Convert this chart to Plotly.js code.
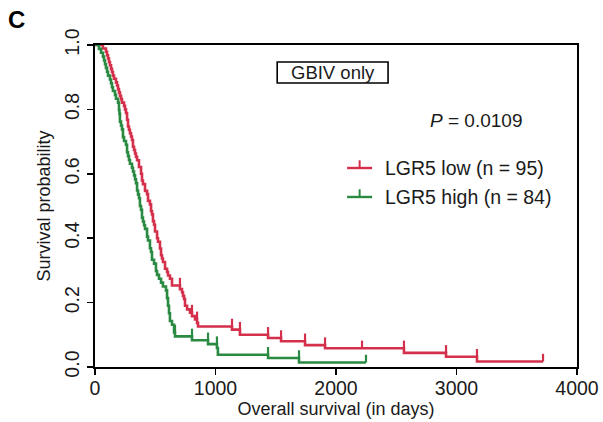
<!DOCTYPE html>
<html>
<head>
<meta charset="utf-8">
<script src="https://cdn.plot.ly/plotly-3.0.1.min.js"></script>
<style>html,body{margin:0;padding:0;background:#fff;}#chart{width:603px;height:422px;}</style>
</head>
<body>
<div id="chart"></div>
<script>
// LGR5 low (n = 95): step times (days) and survival probability
var lowTime = [0, 66, 91, 100, 108, 116, 124, 133, 141, 149, 158, 174, 183, 191, 199, 207, 216, 224, 241, 249, 257, 266, 274, 282, 290, 299, 307, 315, 324, 332, 340, 349, 365, 382, 390, 398, 415, 432, 440, 456, 465, 473, 481, 490, 498, 515, 523, 539, 548, 556, 564, 581, 598, 606, 622, 639, 705, 722, 730, 739, 747, 764, 788, 805, 830, 847, 855, 1137, 1203, 1436, 1544, 1743, 1909, 2564, 2913, 3170, 3718];
var lowSurv = [1.0, 0.989, 0.979, 0.968, 0.958, 0.947, 0.937, 0.926, 0.916, 0.905, 0.895, 0.884, 0.874, 0.863, 0.853, 0.842, 0.832, 0.821, 0.811, 0.800, 0.789, 0.768, 0.747, 0.737, 0.726, 0.716, 0.705, 0.684, 0.674, 0.663, 0.653, 0.642, 0.621, 0.600, 0.579, 0.568, 0.547, 0.537, 0.516, 0.505, 0.484, 0.474, 0.453, 0.442, 0.421, 0.400, 0.389, 0.368, 0.347, 0.337, 0.326, 0.305, 0.295, 0.284, 0.274, 0.253, 0.242, 0.232, 0.221, 0.211, 0.190, 0.179, 0.169, 0.158, 0.148, 0.137, 0.126, 0.116, 0.100, 0.090, 0.080, 0.068, 0.058, 0.044, 0.032, 0.017, 0.017];
var lowCensor = [705, 805, 847, 1137, 1203, 1436, 1544, 1743, 1909, 2216, 2564, 2913, 3170, 3718];

// LGR5 high (n = 84)
var highTime = [0, 33, 50, 66, 75, 83, 91, 100, 108, 124, 133, 141, 149, 166, 174, 191, 199, 203, 207, 216, 224, 232, 241, 257, 266, 274, 282, 290, 307, 315, 324, 332, 340, 349, 357, 365, 373, 382, 390, 398, 407, 415, 432, 440, 456, 465, 473, 490, 506, 515, 531, 548, 564, 589, 598, 606, 614, 622, 639, 656, 664, 805, 938, 1012, 1020, 1436, 1693, 2249];
var highSurv = [1.0, 0.988, 0.976, 0.964, 0.952, 0.940, 0.929, 0.917, 0.905, 0.893, 0.881, 0.869, 0.857, 0.845, 0.833, 0.821, 0.798, 0.786, 0.762, 0.750, 0.738, 0.714, 0.702, 0.690, 0.667, 0.655, 0.643, 0.631, 0.619, 0.607, 0.595, 0.583, 0.571, 0.548, 0.536, 0.524, 0.500, 0.488, 0.464, 0.452, 0.440, 0.429, 0.405, 0.393, 0.369, 0.357, 0.333, 0.321, 0.298, 0.286, 0.274, 0.262, 0.250, 0.238, 0.214, 0.190, 0.167, 0.143, 0.131, 0.107, 0.095, 0.083, 0.071, 0.059, 0.038, 0.028, 0.014, 0.014];
var highCensor = [664, 805, 938, 1012, 1436, 1693, 2249];

var seriesNames = ["LGR5 low (n = 95)", "LGR5 high (n = 84)"];
var xTicks = [0, 1000, 2000, 3000, 4000];
var yTicks = [0, 0.2, 0.4, 0.6, 0.8, 1.0];
var yTickText = ["0.0", "0.2", "0.4", "0.6", "0.8", "1.0"];

var RED = "#d4304b", GREEN = "#2b8a42";
var FONT = "Liberation Sans, Arial, sans-serif";
var TXT = "#1a1a1a";

function levelBefore(times, surv, t) {
  var v = surv[0];
  for (var i = 0; i < times.length; i++) { if (times[i] < t) v = surv[i]; }
  return v;
}
function censorTrace(times, surv, cens, color) {
  var ys = cens.map(function (t) { return levelBefore(times, surv, t); });
  return {
    x: cens, y: ys, type: "scatter", mode: "markers",
    marker: { size: 1, color: color, opacity: 0 },
    error_y: { type: "data", symmetric: false, array: cens.map(function () { return 0.024; }),
               arrayminus: cens.map(function () { return 0; }), width: 0, thickness: 2.2, color: color },
    showlegend: false, hoverinfo: "skip"
  };
}

var traces = [
  { x: lowTime, y: lowSurv, type: "scatter", mode: "lines", line: { shape: "hv", color: RED, width: 2.6 }, name: seriesNames[0], showlegend: false },
  { x: highTime, y: highSurv, type: "scatter", mode: "lines", line: { shape: "hv", color: GREEN, width: 2.6 }, name: seriesNames[1], showlegend: false },
  censorTrace(lowTime, lowSurv, lowCensor, RED),
  censorTrace(highTime, highSurv, highCensor, GREEN)
];

// positions in paper coordinates
var lx0 = 0.523, lx1 = 0.575, ly = [0.618, 0.528], tickH = 0.024;
var shapes = [
  { type: "rect", xref: "paper", yref: "paper", x0: 0.378, x1: 0.608, y0: 0.882, y1: 0.947, line: { color: "#000", width: 1.6 }, fillcolor: "rgba(0,0,0,0)" }
];
var colors = [RED, GREEN];
for (var i = 0; i < 2; i++) {
  shapes.push({ type: "line", xref: "paper", yref: "paper", x0: lx0, x1: lx1, y0: ly[i], y1: ly[i], line: { color: colors[i], width: 2.4 } });
  shapes.push({ type: "line", xref: "paper", yref: "paper", x0: (lx0 + lx1) / 2, x1: (lx0 + lx1) / 2, y0: ly[i], y1: ly[i] + tickH, line: { color: colors[i], width: 2 } });
}

var annotations = [
  { text: "<b>C</b>", xref: "paper", yref: "paper", x: -0.162, y: 1.078, xanchor: "center", yanchor: "middle", showarrow: false, font: { family: FONT, size: 24, color: "#000" } },
  { text: "GBIV only", xref: "paper", yref: "paper", x: 0.493, y: 0.915, xanchor: "center", yanchor: "middle", showarrow: false, font: { family: FONT, size: 18.5, color: TXT } },
  { text: "<i>P</i> = 0.0109", xref: "paper", yref: "paper", x: 0.79, y: 0.767, xanchor: "center", yanchor: "middle", showarrow: false, font: { family: FONT, size: 19, color: TXT } },
  { text: seriesNames[0], xref: "paper", yref: "paper", x: 0.597, y: ly[0], xanchor: "left", yanchor: "middle", showarrow: false, font: { family: FONT, size: 19.5, color: TXT } },
  { text: seriesNames[1], xref: "paper", yref: "paper", x: 0.597, y: ly[1], xanchor: "left", yanchor: "middle", showarrow: false, font: { family: FONT, size: 19.5, color: TXT } }
];

var layout = {
  width: 603, height: 422,
  margin: { l: 95, r: 26, t: 45, b: 55, pad: 0 },
  paper_bgcolor: "#fff", plot_bgcolor: "#fff",
  showlegend: false,
  xaxis: {
    range: [0, 4000], tickvals: xTicks, ticktext: xTicks.map(String),
    showline: true, mirror: true, linecolor: "#000", linewidth: 2,
    ticks: "outside", ticklen: 6, tickwidth: 1.5, tickcolor: "#000",
    ticklabelstandoff: -3,
    showgrid: false, zeroline: false,
    tickfont: { family: FONT, size: 19.5, color: TXT },
    title: { text: "Overall survival (in days)", font: { family: FONT, size: 18, color: TXT }, standoff: 0 }
  },
  yaxis: {
    range: [0, 1], tickvals: yTicks, ticktext: yTickText, tickangle: -90,
    showline: true, mirror: true, linecolor: "#000", linewidth: 2,
    ticks: "outside", ticklen: 6, tickwidth: 1.5, tickcolor: "#000",
    showgrid: false, zeroline: false,
    tickfont: { family: FONT, size: 19.5, color: TXT },
    title: { text: "Survival probability", font: { family: FONT, size: 18, color: TXT }, standoff: 6 }
  },
  shapes: shapes,
  annotations: annotations
};

Plotly.newPlot("chart", traces, layout, { displayModeBar: false, staticPlot: true });
</script>
</body>
</html>
